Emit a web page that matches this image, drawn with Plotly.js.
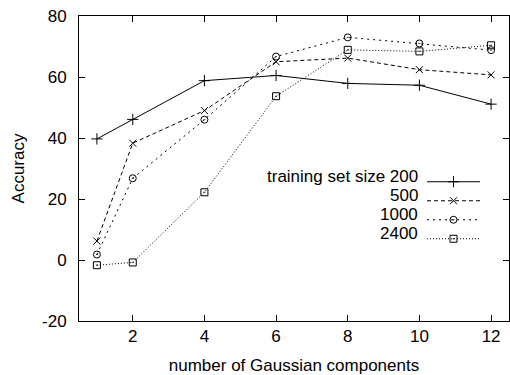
<!DOCTYPE html>
<html>
<head>
<meta charset="utf-8">
<script src="https://cdn.plot.ly/plotly-3.0.1.min.js"></script>
<style>
  html, body { margin: 0; padding: 0; background: #fff; }
  #chart { width: 510px; height: 375px; }
</style>
</head>
<body>
<div id="chart"></div>
<script>
// ---- data ----
const components = [1, 2, 4, 6, 8, 10, 12];
const acc200  = [39.7, 46.1, 58.8, 60.5, 57.9, 57.3, 51.1];
const acc500  = [6.2, 38.3, 49.0, 65.0, 66.2, 62.4, 60.7];
const acc1000 = [1.8, 26.8, 46.0, 66.7, 73.0, 71.0, 68.8];
const acc2400 = [-1.7, -0.8, 22.2, 53.7, 68.9, 68.4, 70.4];
const seriesNames = ["training set size 200", "500", "1000", "2400"];
const xTicks = [2, 4, 6, 8, 10, 12];
const yTicks = [-20, 0, 20, 40, 60, 80];

const FONT = "Liberation Sans, Arial, sans-serif";
const FS = 17;
const seriesData = [acc200, acc500, acc1000, acc2400];
const dashes = ["solid", "4px,3px", "2px,4px", "1px,2px"];
const symbols = ["cross-thin-open", "x-thin-open", "circle-open-dot", "square-open-dot"];
const msizes = [8, 7, 7, 7];

const traces = seriesData.map((ys, i) => ({
  x: components,
  y: ys,
  type: "scatter",
  mode: "lines+markers",
  name: " ",
  line: { color: "#000", width: 1, dash: dashes[i] },
  marker: { symbol: symbols[i], size: msizes[i], color: "#000", line: { color: "#000", width: 1 } }
}));

// plot area geometry
const L = 79, R = 1, T = 16, B = 54;
const W = 510 - L - R, H = 375 - T - B;
const legendTextX = 420;           // right edge of legend texts (px)
const rowGap = 19;                 // Plotly legend item height
const legendTop = 205.25 - 1.5 * rowGap - rowGap / 2;

const annotations = seriesNames.map((s, i) => ({
  xref: "paper", yref: "paper",
  x: (legendTextX - L) / W, y: (375 - B - (legendTop + rowGap / 2 + i * rowGap)) / H,
  xanchor: "right", yanchor: "middle", align: "right",
  text: s, showarrow: false,
  font: { family: FONT, size: FS, color: "#000" }
}));

const layout = {
  width: 510, height: 375,
  margin: { l: L, r: R, t: T, b: B, pad: 0 },
  paper_bgcolor: "#fff", plot_bgcolor: "#fff",
  font: { family: FONT, size: FS, color: "#000" },
  showlegend: true,
  legend: {
    x: (422 - L) / W, y: (375 - B - legendTop) / H,
    xanchor: "left", yanchor: "top",
    bgcolor: "rgba(0,0,0,0)", borderwidth: 0,
    font: { family: FONT, size: 10, color: "#000" },
    itemwidth: 53
  },
  xaxis: {
    range: [0.5, 12.5],
    tickvals: xTicks, ticktext: xTicks.map(String),
    ticks: "inside", ticklen: 6, tickcolor: "#000", tickwidth: 1,
    showline: true, linecolor: "#000", linewidth: 1, mirror: "allticks",
    showgrid: false, zeroline: false,
    tickfont: { family: FONT, size: FS, color: "#000" },
    title: { text: "number of Gaussian components", font: { family: FONT, size: FS, color: "#000" }, standoff: 13 }
  },
  yaxis: {
    range: [-20, 80],
    tickvals: yTicks, ticktext: yTicks.map(String),
    ticks: "inside", ticklen: 6, tickcolor: "#000", tickwidth: 1,
    showline: true, linecolor: "#000", linewidth: 1, mirror: "allticks",
    showgrid: false, zeroline: false,
    ticklabelstandoff: 8,
    tickfont: { family: FONT, size: FS, color: "#000" },
    title: { text: "Accuracy", font: { family: FONT, size: FS, color: "#000" }, standoff: 13 }
  },
  annotations: annotations
};

Plotly.newPlot("chart", traces, layout, { staticPlot: true, displayModeBar: false });
</script>
</body>
</html>
